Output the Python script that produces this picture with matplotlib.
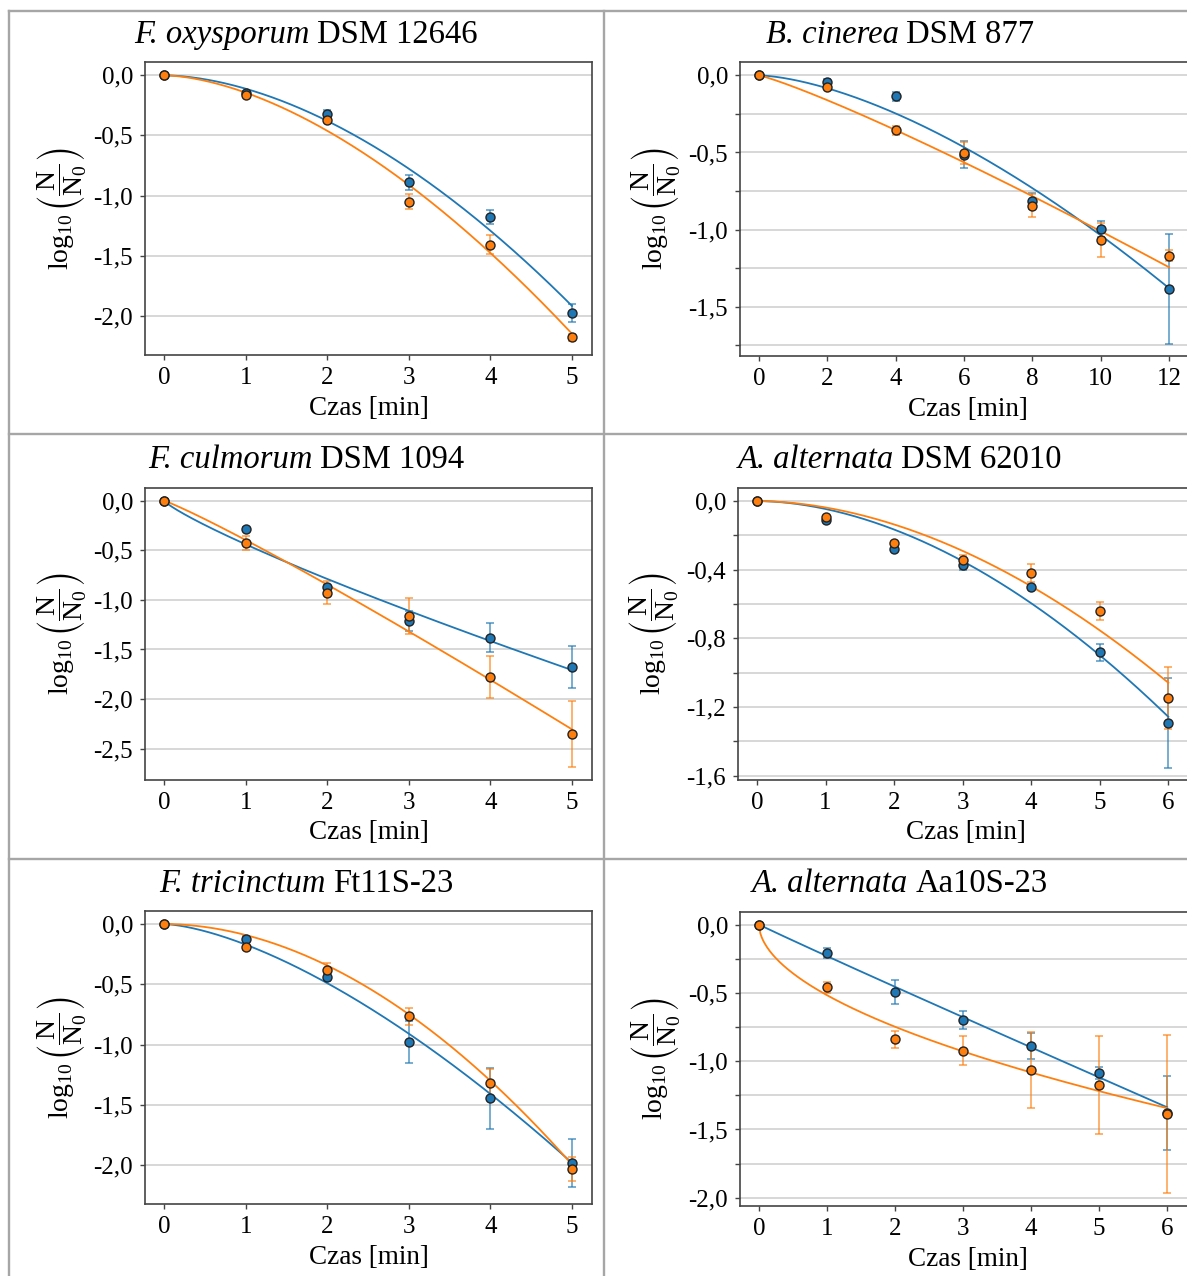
import numpy as np
import matplotlib
matplotlib.use('Agg')
import matplotlib.pyplot as plt
from matplotlib.lines import Line2D
from matplotlib.ticker import MultipleLocator, FuncFormatter

plt.rcParams['font.family'] = ['Liberation Serif', 'DejaVu Serif']
plt.rcParams['mathtext.fontset'] = 'custom'
plt.rcParams['mathtext.rm'] = 'Liberation Serif'
plt.rcParams['mathtext.it'] = 'Liberation Serif:italic'
plt.rcParams['mathtext.fallback'] = 'stix'

BLUE = '#1f77b4'
ORANGE = '#ff7f0e'

# --- data (log10 N/N0, with SD) ---
# F. oxysporum DSM 12646
t_oxy = [0, 1, 2, 3, 4, 5]
oxy_blue = [0.0, -0.15, -0.32, -0.89, -1.18, -1.98]
oxy_blue_err = [0.01, 0.02, 0.03, 0.06, 0.06, 0.075]
oxy_orange = [0.0, -0.16, -0.37, -1.05, -1.41, -2.18]
oxy_orange_err = [0.01, 0.02, 0.02, 0.06, 0.08, 0.03]

# B. cinerea DSM 877
t_cin = [0, 2, 4, 6, 8, 10, 12]
cin_blue = [0.0, -0.045, -0.135, -0.513, -0.815, -0.996, -1.385]
cin_blue_err = [0.01, 0.02, 0.03, 0.09, 0.05, 0.05, 0.355]
cin_orange = [0.0, -0.078, -0.357, -0.505, -0.845, -1.07, -1.17]
cin_orange_err = [0.01, 0.01, 0.03, 0.07, 0.075, 0.11, 0.035]

# F. culmorum DSM 1094
t_cul = [0, 1, 2, 3, 4, 5]
cul_blue = [0.0, -0.29, -0.866, -1.215, -1.38, -1.68]
cul_blue_err = [0.01, 0.02, 0.02, 0.1, 0.15, 0.21]
cul_orange = [0.0, -0.43, -0.926, -1.16, -1.78, -2.35]
cul_orange_err = [0.01, 0.07, 0.12, 0.18, 0.21, 0.33]

# A. alternata DSM 62010
t_alt1 = [0, 1, 2, 3, 4, 5, 6]
alt1_blue = [0.0, -0.108, -0.281, -0.371, -0.5, -0.882, -1.293]
alt1_blue_err = [0.005, 0.01, 0.01, 0.03, 0.01, 0.05, 0.26]
alt1_orange = [0.0, -0.095, -0.244, -0.345, -0.419, -0.641, -1.148]
alt1_orange_err = [0.005, 0.01, 0.01, 0.03, 0.05, 0.05, 0.18]

# F. tricinctum Ft11S-23
t_tri = [0, 1, 2, 3, 4, 5]
tri_blue = [0.0, -0.127, -0.44, -0.98, -1.444, -1.98]
tri_blue_err = [0.01, 0.03, 0.03, 0.175, 0.255, 0.2]
tri_orange = [0.0, -0.193, -0.384, -0.763, -1.32, -2.03]
tri_orange_err = [0.01, 0.02, 0.06, 0.07, 0.12, 0.1]

# A. alternata Aa10S-23
t_alt2 = [0, 1, 2, 3, 4, 5, 6]
alt2_blue = [0.0, -0.208, -0.493, -0.70, -0.89, -1.088, -1.38]
alt2_blue_err = [0.005, 0.04, 0.085, 0.065, 0.095, 0.045, 0.27]
alt2_orange = [0.0, -0.459, -0.841, -0.922, -1.066, -1.176, -1.385]
alt2_orange_err = [0.005, 0.04, 0.065, 0.105, 0.28, 0.36, 0.58]

# Weibull fit parameters (delta, p) for blue and orange curves
oxy_fit = [(3.46, 1.77), (3.17, 1.68)]
cin_fit = [(9.77, 1.567), (9.91, 1.142)]
cul_fit = [(2.65, 0.843), (2.33, 1.094)]
alt1_fit = [(5.30, 1.843), (5.82, 1.866)]
tri_fit = [(3.195, 1.524), (3.49, 1.918)]
alt2_fit = [(4.46, 0.98), (3.448, 0.533)]

# panel titles: species (italic) + strain
species = ['F. oxysporum', 'B. cinerea', 'F. culmorum',
           'A. alternata', 'F. tricinctum', 'A. alternata']
strains = ['DSM 12646', 'DSM 877', 'DSM 1094',
           'DSM 62010', 'Ft11S-23', 'Aa10S-23']

W, H = 1187, 1276
fig = plt.figure(figsize=(W / 100, H / 100), dpi=100)
renderer = fig.canvas.get_renderer()
TITLE_FS = 23.5


def px_axes(left, top, width, height):
    return fig.add_axes([left / W, 1 - (top + height) / H, width / W, height / H])


def comma(v, pos):
    if abs(v) < 1e-9:
        v = 0.0
    return f'{v:.1f}'.replace('.', ',')


def weibull(t, delta, p):
    return -(t / delta) ** p


def mixed_title(xc, yc, it_part, rm_part):
    # italic species name followed by upright strain code, centred on xc
    y = 1 - yc / H
    t1 = fig.text(0, y, it_part, fontsize=TITLE_FS, style='italic', va='center')
    t2 = fig.text(0, y, rm_part, fontsize=TITLE_FS, va='center')
    w1 = t1.get_window_extent(renderer).width
    w2 = t2.get_window_extent(renderer).width
    gap = 0.22 * TITLE_FS * 100 / 72
    x0 = xc - (w1 + gap + w2) / 2
    t1.set_x(x0 / W)
    t2.set_x((x0 + w1 + gap) / W)


def panel(box, idx, title_xy, t, blue, blue_err, orange, orange_err, fit,
          xlim, ylim, xstep, ystep, yminor=None):
    ax = px_axes(*box)
    tt = np.linspace(0, max(t), 300)
    for vals, errs, (d, p), col in [(blue, blue_err, fit[0], BLUE),
                                    (orange, orange_err, fit[1], ORANGE)]:
        ax.errorbar(t, vals, yerr=errs, fmt='none', ecolor=col, alpha=0.7,
                    elinewidth=1.2, capsize=3, capthick=1.2, zorder=2)
        ax.plot(tt, weibull(tt, d, p), color=col, lw=1.3, zorder=3)
    for vals, col in [(blue, BLUE), (orange, ORANGE)]:
        ax.plot(t, vals, 'o', mfc=col, mec='#222222', mew=1.0, ms=6.5, zorder=4)

    ax.set_xlim(*xlim)
    ax.set_ylim(*ylim)
    ax.xaxis.set_major_locator(MultipleLocator(xstep))
    ax.yaxis.set_major_locator(MultipleLocator(ystep))
    ax.yaxis.set_major_formatter(FuncFormatter(comma))
    if yminor:
        ax.yaxis.set_minor_locator(MultipleLocator(yminor))
        ax.grid(True, axis='y', which='minor', color='#d4d4d4', lw=1.3)
    ax.grid(True, axis='y', which='major', color='#d4d4d4', lw=1.3)
    ax.set_axisbelow(True)
    ax.tick_params(which='both', direction='out', length=3.5, width=1,
                   color='#444444', labelsize=18, pad=5)
    for s in ax.spines.values():
        s.set_color('#444444')
        s.set_linewidth(1.2)

    ax.set_xlabel('Czas [min]', fontsize=19.5, va='center')
    ax.xaxis.set_label_coords(0.5, -0.181)
    ax.set_ylabel(r'$\log_{10}\left(\dfrac{\mathrm{N}}{\mathrm{N}_0}\right)$',
                  fontsize=20, va='center')
    ax.yaxis.set_label_coords(-0.186, 0.5)

    mixed_title(title_xy[0], title_xy[1], species[idx], strains[idx])
    return ax


panel((145, 62, 447, 293), 0, (306, 35), t_oxy, oxy_blue, oxy_blue_err,
      oxy_orange, oxy_orange_err, oxy_fit, (-0.233, 5.245), (-2.327, 0.111), 1, 0.5)
panel((740, 62, 455, 294), 1, (900, 35), t_cin, cin_blue, cin_blue_err,
      cin_orange, cin_orange_err, cin_fit, (-0.556, 12.76), (-1.82, 0.087), 2, 0.5, 0.25)
panel((145, 488, 447, 292), 2, (306, 460), t_cul, cul_blue, cul_blue_err,
      cul_orange, cul_orange_err, cul_fit, (-0.233, 5.245), (-2.816, 0.128), 1, 0.5)
panel((738, 488, 455, 292), 3, (900, 460), t_alt1, alt1_blue, alt1_blue_err,
      alt1_orange, alt1_orange_err, alt1_fit, (-0.277, 6.36), (-1.625, 0.076), 1, 0.4, 0.2)
panel((145, 911, 447, 293), 4, (306, 884), t_tri, tri_blue, tri_blue_err,
      tri_orange, tri_orange_err, tri_fit, (-0.233, 5.245), (-2.32, 0.108), 1, 0.5)
panel((740, 912, 455, 294), 5, (900, 884), t_alt2, alt2_blue, alt2_blue_err,
      alt2_orange, alt2_orange_err, alt2_fit, (-0.279, 6.41), (-2.06, 0.092), 1, 0.5, 0.25)

# table frame around the panels
frame = dict(color='#a6a6a6', lw=1.7)
for y in [11, 434.5, 858.5]:
    fig.add_artist(Line2D([8.5 / W, 1], [1 - y / H, 1 - y / H], **frame))
for x in [8.5, 604]:
    fig.add_artist(Line2D([x / W, x / W], [1 - 11 / H, 0], **frame))

fig.savefig('out.png', dpi=100)
